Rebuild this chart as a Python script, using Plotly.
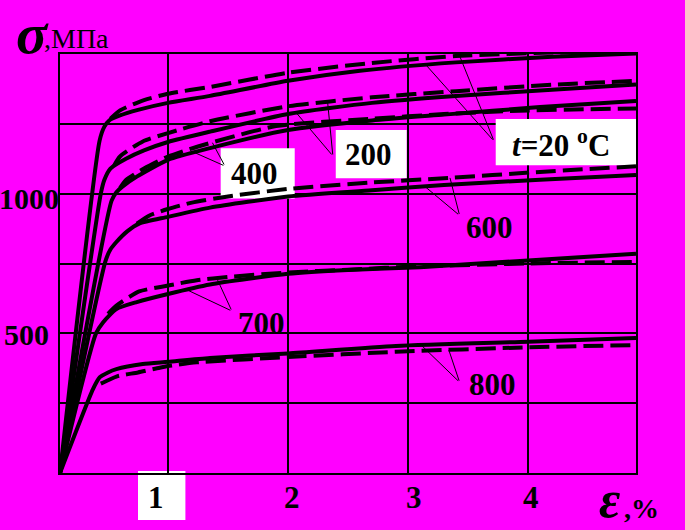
import numpy as np
import plotly.graph_objects as go

# ---------------- data (strain eps, %; stress sigma, MPa) ----------------
# solid curves
eps_20_s = [0.10, 0.43, 0.47, 0.51, 0.60, 0.75, 1.00, 1.35, 2.00, 2.60, 3.40, 4.20, 4.90]
sig_20_s = [0, 1190, 1240, 1262, 1280, 1300, 1325, 1350, 1404, 1440, 1470, 1490, 1502]
eps_200_s = [0.10, 0.44, 0.47, 0.52, 0.65, 0.80, 1.00, 1.35, 2.00, 2.70, 3.40, 4.20, 4.90]
sig_200_s = [0, 1000, 1050, 1090, 1125, 1155, 1185, 1222, 1285, 1325, 1350, 1372, 1391]
eps_400_s = [0.10, 0.53, 0.57, 0.62, 0.74, 1.00, 1.35, 2.00, 2.70, 3.30, 4.10, 4.90]
sig_400_s = [0, 975, 1005, 1025, 1061, 1121, 1163, 1228, 1262, 1283, 1310, 1332]
eps_600_s = [0.10, 0.48, 0.52, 0.57, 0.66, 0.76, 1.00, 1.35, 2.00, 2.70, 3.30, 4.10, 4.90]
sig_600_s = [0, 760, 800, 827, 865, 893, 917, 950, 990, 1012, 1031, 1050, 1067]
eps_700_s = [0.10, 0.40, 0.46, 0.57, 0.74, 1.00, 1.35, 2.00, 2.50, 3.10, 4.00, 4.90]
sig_700_s = [0, 500, 540, 587, 612, 641, 675, 713, 727, 737, 761, 785]
eps_800_s = [0.10, 0.375, 0.43, 0.50, 0.57, 0.79, 1.00, 1.35, 2.00, 2.90, 4.00, 4.90]
sig_800_s = [0, 300, 342, 360, 372, 390, 398, 412, 428, 455, 470, 483]

# dashed curves
eps_20_d = [0.52, 0.60, 0.80, 1.00, 1.35, 2.00, 2.70, 3.40, 4.20, 4.90]
sig_20_d = [1268, 1298, 1335, 1358, 1382, 1433, 1468, 1493, 1505, 1510]
eps_200_d = [0.55, 0.60, 0.79, 1.00, 1.35, 2.00, 2.70, 3.40, 4.20, 4.90]
sig_200_d = [1100, 1133, 1187, 1217, 1259, 1313, 1345, 1367, 1390, 1404]
eps_400_d = [0.60, 0.65, 0.80, 1.00, 1.25, 1.90, 2.70, 3.30, 4.00, 4.90]
sig_400_d = [1020, 1049, 1090, 1133, 1169, 1242, 1268, 1285, 1298, 1305]
eps_600_d = [0.74, 0.85, 1.00, 1.20, 1.50, 2.00, 2.70, 3.30, 4.10, 4.90]
sig_600_d = [893, 923, 945, 968, 990, 1017, 1040, 1055, 1078, 1098]
eps_700_d = [0.50, 0.57, 0.76, 1.00, 1.24, 1.50, 2.00, 2.50, 3.10, 4.00, 4.90]
sig_700_d = [570, 599, 650, 671, 690, 702, 718, 728, 740, 750, 756]
eps_800_d = [0.44, 0.50, 0.58, 0.75, 0.90, 1.00, 1.24, 2.00, 2.90, 4.00, 4.90]
sig_800_d = [320, 332, 347, 360, 374, 383, 396, 415, 434, 450, 458]

x_ticks = [1, 2, 3, 4]
x_tick_labels = ["1", "2", "3", "4"]
y_ticks = [500, 1000]
y_tick_labels = ["500", "1000"]
y_grid = [250, 500, 750, 1000, 1250]

temp_labels = ["<i>t</i>=20 <sup>o</sup>C", "200", "400", "600", "700", "800"]

# ---------------- figure ----------------
MAG = "#FF00FF"
FONT = "Liberation Serif"
fig = go.Figure()

solid = [(eps_20_s, sig_20_s), (eps_200_s, sig_200_s), (eps_400_s, sig_400_s),
         (eps_600_s, sig_600_s), (eps_700_s, sig_700_s), (eps_800_s, sig_800_s)]
dashed = [(eps_20_d, sig_20_d), (eps_200_d, sig_200_d), (eps_400_d, sig_400_d),
          (eps_600_d, sig_600_d), (eps_700_d, sig_700_d), (eps_800_d, sig_800_d)]

for e, s in dashed:
    fig.add_trace(go.Scatter(x=e, y=s, mode="lines",
                             line=dict(color="black", width=4, dash="20px,7px",
                                       shape="spline", smoothing=0.6),
                             hoverinfo="skip", showlegend=False))
for e, s in solid:
    fig.add_trace(go.Scatter(x=e, y=s, mode="lines",
                             line=dict(color="black", width=4,
                                       shape="spline", smoothing=0.6),
                             hoverinfo="skip", showlegend=False))

# white label boxes inside plot (between grid and traces)
boxes = [(3.731, 4.90, 1102, 1267), (2.398, 2.989, 1055, 1228), (1.439, 2.056, 983, 1163)]
for x0, x1, y0, y1 in boxes:
    fig.add_shape(type="rect", xref="x", yref="y", x0=x0, x1=x1, y0=y0, y1=y1,
                  fillcolor="white", line=dict(width=0), layer="between")
# white box behind tick label "1"
fig.add_shape(type="rect", xref="x", yref="paper", x0=0.75, x1=1.145, y0=-0.112, y1=0.005,
              fillcolor="white", line=dict(width=0), layer="below")

# label texts
label_pos = [(4.273, 1181), (2.673, 1139), (1.7225, 1073), (3.681, 879), (1.78, 537), (3.706, 318)]
for (lx, ly), txt in zip(label_pos, temp_labels):
    fig.add_annotation(x=lx, y=ly, xref="x", yref="y", text="<b>" + txt + "</b>",
                       showarrow=False, font=dict(family=FONT, size=31, color="black"),
                       xanchor="center", yanchor="middle")

# leader lines: from label anchor to a point on a curve
leaders = [
    ((3.717, 1188), [(solid[0], 3.15), (dashed[0], 3.43)]),
    ((2.374, 1135), [(solid[1], 2.07), (dashed[1], 2.33)]),
    ((1.474, 1099), [(solid[2], 1.22), (dashed[2], 1.37)]),
    ((3.43, 922), [(solid[3], 3.14), (dashed[3], 3.35)]),
    ((1.532, 580), [(solid[4], 1.156), (dashed[4], 1.406)]),
    ((3.43, 325), [(solid[5], 3.11), (dashed[5], 3.34)]),
]
for (tx, ty), targets in leaders:
    for (e, s), xe in targets:
        ye = float(np.interp(xe, e, s))
        fig.add_annotation(x=xe, y=ye, ax=tx, ay=ty, xref="x", yref="y",
                           axref="x", ayref="y", text="", showarrow=True,
                           arrowhead=0, arrowwidth=1, arrowcolor="black",
                           standoff=0, startstandoff=0)

# x tick labels
x_shifts = [-12, 4, 6, 3]
for v, t, sh in zip(x_ticks, x_tick_labels, x_shifts):
    fig.add_annotation(x=v, y=0, xref="x", yref="paper", text="<b>" + t + "</b>",
                       showarrow=False, font=dict(family=FONT, size=31, color="black"),
                       xanchor="center", yanchor="middle", xshift=sh, yshift=-24)
# y tick labels
y_shifts = [(-9, -1), (1, -5)]
for v, t, (xs, ys) in zip(y_ticks, y_tick_labels, y_shifts):
    fig.add_annotation(x=0, y=v, xref="paper", yref="y", text="<b>" + t + "</b>",
                       showarrow=False, font=dict(family=FONT, size=30, color="black"),
                       xanchor="right", yanchor="middle", xshift=xs, yshift=ys)

# axis titles
fig.add_annotation(x=0, y=1, xref="paper", yref="paper", text="<b><i>σ</i></b>",
                   showarrow=False, font=dict(family=FONT, size=58, color="black"),
                   xanchor="left", yanchor="bottom", xshift=-46, yshift=-14)
fig.add_annotation(x=0, y=1, xref="paper", yref="paper", text=",МПа",
                   showarrow=False, font=dict(family=FONT, size=28, color="black"),
                   xanchor="left", yanchor="bottom", xshift=-18, yshift=-2)
fig.add_annotation(x=1, y=0, xref="paper", yref="paper", text="<b><i>ε</i></b>",
                   showarrow=False, font=dict(family=FONT, size=52, color="black"),
                   xanchor="left", yanchor="top", xshift=-39, yshift=4)
fig.add_annotation(x=1, y=0, xref="paper", yref="paper", text="<b>,%</b>",
                   showarrow=False, font=dict(family=FONT, size=28, color="black"),
                   xanchor="left", yanchor="top", xshift=-14, yshift=-18)

fig.update_xaxes(range=[0.1, 4.9], tickvals=x_ticks, showticklabels=False,
                 showgrid=True, gridcolor="black", gridwidth=1.5, zeroline=False,
                 showline=True, linecolor="black", linewidth=1.5, mirror=True, ticks="")
fig.update_yaxes(range=[0, 1500], tickvals=y_grid, showticklabels=False,
                 showgrid=True, gridcolor="black", gridwidth=1.5, zeroline=False,
                 showline=True, linecolor="black", linewidth=1.5, mirror=True, ticks="")

fig.update_layout(width=685, height=530, margin=dict(l=60, r=49, t=54, b=57),
                  paper_bgcolor=MAG, plot_bgcolor=MAG, showlegend=False)

fig.write_html("out.html", config={"displayModeBar": False},
               post_script="document.body.style.margin='0';document.body.style.overflow='hidden';")
